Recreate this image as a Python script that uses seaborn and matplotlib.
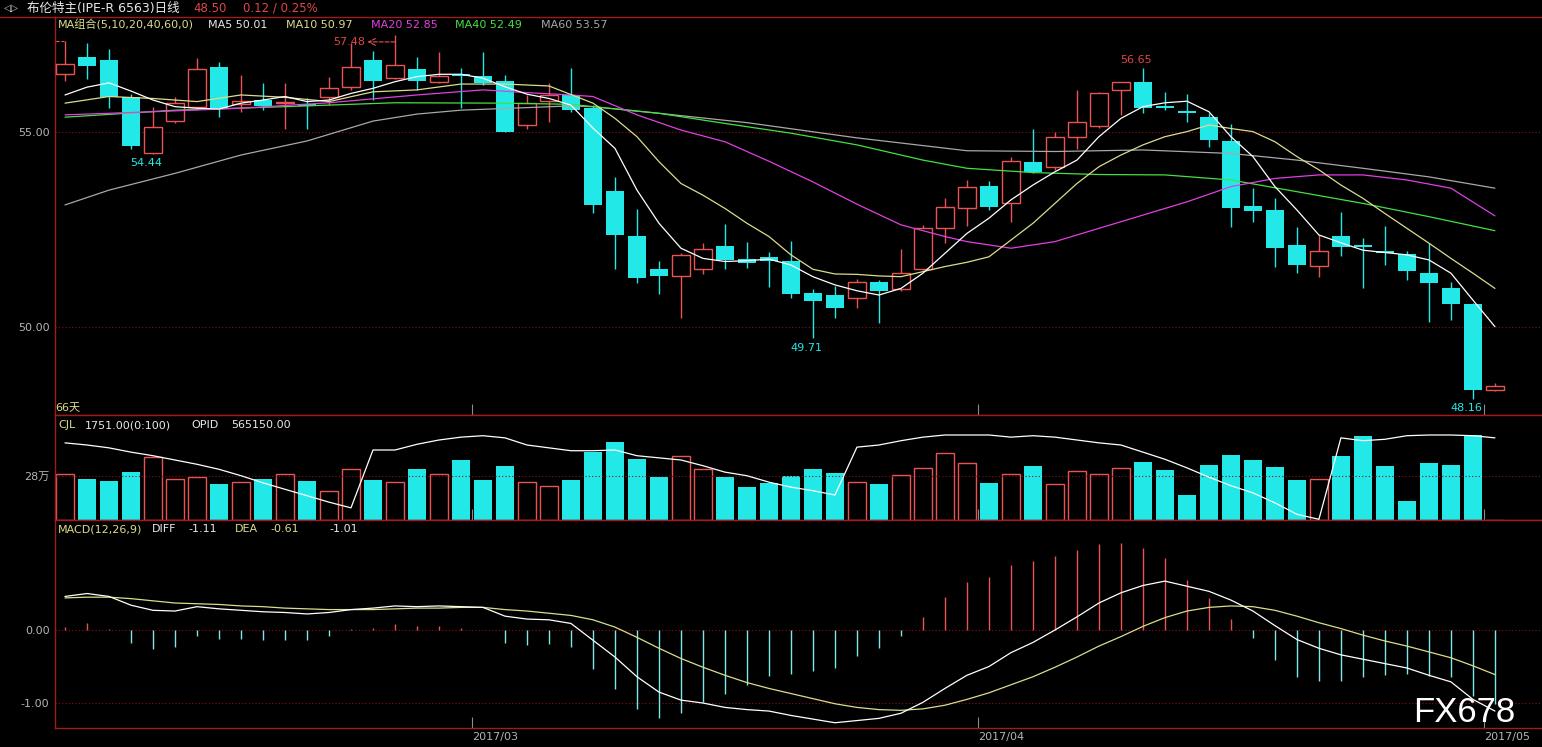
import numpy as np
import pandas as pd
import matplotlib
matplotlib.use("Agg")
import matplotlib.pyplot as plt
from matplotlib.lines import Line2D
import seaborn as sns

# ---- daily candles, Brent main contract (66 days) ----
opens = [56.50, 56.93, 56.85, 55.89, 54.47, 55.29, 55.65, 56.66, 55.72, 55.82,
         55.74, 55.72, 55.89, 56.15, 56.85, 56.38, 56.61, 56.29, 56.50, 56.44,
         56.31, 55.17, 55.79, 55.95, 55.61, 53.49, 52.33, 51.48, 51.32, 51.50,
         52.08, 51.74, 51.79, 51.69, 50.86, 50.82, 50.75, 51.15, 50.97, 51.48,
         52.53, 53.04, 53.62, 53.17, 54.22, 54.11, 54.86, 55.16, 56.08, 56.27,
         55.67, 55.54, 55.38, 54.77, 53.10, 53.00, 52.10, 51.57, 52.33, 52.10,
         51.95, 51.87, 51.38, 50.99, 50.58, 48.38]
highs = [57.33, 57.27, 57.12, 55.97, 55.65, 55.91, 56.89, 56.79, 56.46, 56.25,
         56.25, 55.86, 56.40, 57.27, 57.08, 57.48, 56.93, 57.06, 56.63, 57.06,
         56.46, 55.95, 56.26, 56.63, 55.70, 53.85, 53.02, 51.69, 51.89, 52.15,
         52.64, 52.17, 51.93, 52.21, 50.97, 51.06, 51.22, 51.21, 51.99, 52.62,
         53.30, 53.77, 53.75, 54.37, 55.08, 55.01, 56.08, 56.03, 56.29, 56.65,
         56.03, 55.97, 55.48, 55.21, 53.56, 53.30, 52.57, 52.36, 52.96, 52.27,
         52.59, 51.96, 52.16, 51.16, 50.62, 48.56]
lows = [56.32, 56.36, 55.61, 54.56, 54.44, 55.22, 55.56, 55.39, 55.52, 55.56,
        55.09, 55.09, 55.69, 56.08, 55.82, 56.35, 56.08, 56.26, 55.61, 56.21,
        55.01, 55.07, 55.26, 55.52, 52.92, 51.50, 51.14, 50.84, 50.22, 51.35,
        51.50, 51.52, 51.02, 50.74, 49.71, 50.24, 50.50, 50.11, 50.93, 51.46,
        52.16, 52.59, 53.00, 52.70, 53.94, 54.03, 54.56, 55.10, 55.44, 55.48,
        55.56, 55.26, 54.61, 52.57, 52.68, 51.55, 51.39, 51.29, 51.82, 51.01,
        51.59, 51.21, 50.14, 50.18, 48.16, 48.36]
closes = [56.74, 56.70, 55.91, 54.64, 55.14, 55.74, 56.61, 55.61, 55.79, 55.67,
          55.78, 55.67, 56.14, 56.66, 56.32, 56.72, 56.32, 56.44, 56.44, 56.26,
          55.01, 55.74, 55.95, 55.56, 53.13, 52.36, 51.26, 51.31, 51.85, 51.99,
          51.72, 51.65, 51.70, 50.84, 50.67, 50.50, 51.15, 50.93, 51.39, 52.53,
          53.07, 53.60, 53.09, 54.26, 53.98, 54.88, 55.25, 55.99, 56.27, 55.61,
          55.62, 55.48, 54.79, 53.06, 52.97, 52.03, 51.59, 51.96, 52.06, 52.06,
          51.89, 51.44, 51.12, 50.59, 48.38, 48.50]

# volume (万手) and open interest (万手)
volumes = [29.3, 26.1, 25.0, 30.8, 40.3, 26.1, 27.4, 22.9, 24.2, 26.1,
           29.3, 25.0, 18.5, 32.5, 25.5, 24.0, 32.5, 29.3, 38.2, 25.5,
           34.5, 24.0, 21.4, 25.5, 43.5, 49.6, 38.8, 27.4, 40.7, 32.5,
           27.4, 21.2, 23.7, 28.0, 32.5, 29.9, 24.0, 22.9, 28.6, 32.9,
           42.4, 36.1, 23.7, 29.1, 34.4, 22.7, 31.2, 29.3, 33.0, 37.1,
           31.8, 15.9, 35.0, 41.6, 38.2, 33.7, 25.5, 25.9, 40.7, 53.5,
           34.4, 12.1, 36.3, 35.2, 54.1, 0.18]
opid = [55.8, 55.5, 55.1, 54.5, 54.0, 53.4, 52.8, 52.1, 51.2, 50.2,
        49.3, 48.4, 47.5, 46.7, 54.8, 54.8, 55.6, 56.2, 56.6, 56.8,
        56.5, 55.5, 55.1, 54.7, 54.7, 54.8, 54.0, 53.7, 53.4, 52.6,
        51.7, 51.2, 50.3, 49.6, 49.1, 48.5, 55.2, 55.5, 56.1, 56.6,
        56.9, 56.9, 56.9, 56.6, 56.8, 56.6, 56.2, 55.8, 55.5, 54.5,
        53.5, 52.3, 51.0, 49.8, 48.8, 47.4, 45.8, 45.1, 56.5, 56.1,
        56.3, 56.8, 56.9, 56.9, 56.8, 56.5]

# moving averages
ma5 = [55.95, 56.15, 56.26, 56.05, 55.82, 55.65, 55.61, 55.59, 55.74, 55.82,
       55.91, 55.78, 55.82, 55.99, 56.12, 56.29, 56.42, 56.48, 56.48, 56.38,
       56.16, 55.97, 55.86, 55.69, 55.10, 54.58, 53.51, 52.66, 52.02, 51.76,
       51.68, 51.70, 51.74, 51.59, 51.29, 51.08, 50.93, 50.82, 50.99, 51.38,
       51.89, 52.40, 52.79, 53.26, 53.64, 53.98, 54.28, 54.88, 55.35, 55.65,
       55.75, 55.79, 55.52, 54.88, 54.37, 53.60, 53.00, 52.36, 52.16, 51.97,
       51.91, 51.85, 51.72, 51.38, 50.69, 50.01]
ma10_idx = [0, 2, 4, 6, 8, 10, 12, 14, 16, 18, 20, 22] + list(range(24, 66))
ma10 = [55.74, 55.91, 55.86, 55.78, 55.95, 55.89, 55.78, 56.03, 56.08, 56.23,
        56.23, 56.18,
        55.74, 55.35, 54.88, 54.24, 53.68, 53.38, 53.04, 52.66, 52.32, 51.85,
        51.48, 51.36, 51.35, 51.31, 51.29, 51.42, 51.55, 51.66, 51.80, 52.23,
        52.66, 53.17, 53.68, 54.11, 54.41, 54.67, 54.88, 55.01, 55.18, 55.09,
        55.01, 54.75, 54.37, 54.03, 53.64, 53.30, 52.91, 52.53, 52.15, 51.76,
        51.38, 50.99]
ma20_idx = [0, 4, 8, 12, 16, 19, 21, 23, 24, 26, 28, 30, 32, 34, 36, 38, 40,
            41, 43, 45, 47, 49, 51, 53, 55, 57, 59, 61, 63, 65]
ma20 = [55.44, 55.52, 55.61, 55.75, 55.95, 56.08, 56.01, 55.95, 55.91, 55.44,
        55.05, 54.75, 54.25, 53.72, 53.15, 52.62, 52.32, 52.19, 52.02, 52.19,
        52.53, 52.87, 53.21, 53.60, 53.81, 53.90, 53.90, 53.77, 53.56, 52.85]
ma40_idx = [0, 5, 10, 15, 20, 23, 24, 27, 30, 33, 36, 39, 41, 44, 47, 50, 53,
            56, 59, 62, 65]
ma40 = [55.38, 55.56, 55.65, 55.75, 55.74, 55.71, 55.65, 55.48, 55.22, 54.97,
        54.67, 54.28, 54.07, 53.96, 53.91, 53.90, 53.77, 53.47, 53.17, 52.83,
        52.47]
ma60_idx = [0, 2, 5, 8, 11, 14, 16, 18, 23, 24, 27, 31, 36, 41, 45, 49, 53,
            56, 59, 62, 65]
ma60 = [53.13, 53.51, 53.94, 54.41, 54.77, 55.28, 55.46, 55.56, 55.67, 55.65,
        55.48, 55.24, 54.85, 54.52, 54.50, 54.54, 54.45, 54.28, 54.07, 53.85,
        53.56]

# MACD(12,26,9)
diff = [0.46, 0.50, 0.46, 0.34, 0.27, 0.26, 0.32, 0.29, 0.27, 0.25,
        0.24, 0.22, 0.24, 0.28, 0.30, 0.33, 0.32, 0.33, 0.32, 0.31,
        0.19, 0.15, 0.14, 0.09, -0.14, -0.37, -0.64, -0.85, -0.96, -1.00,
        -1.06, -1.09, -1.11, -1.17, -1.22, -1.27, -1.24, -1.21, -1.14, -0.99,
        -0.80, -0.62, -0.50, -0.31, -0.17, 0.00, 0.18, 0.37, 0.51, 0.61,
        0.67, 0.60, 0.53, 0.41, 0.26, 0.06, -0.13, -0.25, -0.34, -0.40,
        -0.46, -0.52, -0.62, -0.71, -0.95, -1.11]
dea = [0.44, 0.45, 0.45, 0.43, 0.40, 0.37, 0.36, 0.35, 0.33, 0.32,
       0.30, 0.29, 0.28, 0.28, 0.28, 0.29, 0.30, 0.30, 0.31, 0.31,
       0.28, 0.26, 0.23, 0.20, 0.14, 0.04, -0.10, -0.25, -0.39, -0.51,
       -0.62, -0.72, -0.80, -0.87, -0.94, -1.01, -1.06, -1.09, -1.10, -1.08,
       -1.03, -0.95, -0.86, -0.75, -0.64, -0.51, -0.37, -0.22, -0.09, 0.05,
       0.17, 0.26, 0.31, 0.33, 0.32, 0.27, 0.19, 0.10, 0.02, -0.07,
       -0.15, -0.22, -0.30, -0.38, -0.49, -0.61]
macd = [0.04, 0.10, 0.01, -0.18, -0.26, -0.23, -0.08, -0.12, -0.12, -0.13,
        -0.13, -0.13, -0.08, 0.01, 0.03, 0.08, 0.05, 0.05, 0.03, 0.00,
        -0.18, -0.21, -0.19, -0.23, -0.54, -0.81, -1.08, -1.20, -1.13, -0.98,
        -0.88, -0.75, -0.63, -0.60, -0.56, -0.52, -0.36, -0.24, -0.08, 0.18,
        0.45, 0.66, 0.72, 0.89, 0.94, 1.02, 1.10, 1.18, 1.19, 1.12,
        0.99, 0.68, 0.44, 0.15, -0.11, -0.41, -0.64, -0.70, -0.70, -0.65,
        -0.62, -0.60, -0.63, -0.65, -0.91, -1.01]

month_labels = ["2017/03", "2017/04", "2017/05"]
month_pos = [18.5, 41.5, 64.5]

# colours
RED = "#e85454"
TXT_RED = "#e04646"
CYAN = "#22e8e8"
HIST_CYAN = "#7fe6e6"
FRAME = "#a01c1c"
GRID = "#8a1212"
KHAKI = "#dcdc8c"
MAGENTA = "#e040e0"
GREEN = "#44e044"
GRAY = "#a8a8a8"
LABEL = "#b4b4b4"
WHITE = "#e8e8e8"

sns.set_theme(style="dark", rc={"axes.facecolor": "black",
                                "figure.facecolor": "black",
                                "savefig.facecolor": "black"})
plt.rcParams["font.family"] = ["DejaVu Sans", "Noto Sans CJK SC"]
plt.rcParams["axes.unicode_minus"] = False

W, H = 1542, 747
fig = plt.figure(figsize=(W / 100, H / 100), dpi=100)


def box(l, t, r, b):
    return [l / W, 1 - b / H, (r - l) / W, (b - t) / H]


ax1 = fig.add_axes(box(55, 17, W, 415))
ax2 = fig.add_axes(box(55, 415, W, 520))
ax3 = fig.add_axes(box(55, 520, W, 728))

days = np.arange(len(closes))
o, h, l, c = map(np.array, (opens, highs, lows, closes))
up = c >= o
dn = ~up

# ---- candles ----
ax1.vlines(days[up], l[up], h[up], color=RED, lw=1, zorder=2)
ax1.vlines(days[dn], l[dn], h[dn], color=CYAN, lw=1, zorder=2)
ax1.bar(days[up], np.maximum(c - o, 0.03)[up], bottom=o[up], width=0.85,
        facecolor="black", edgecolor=RED, linewidth=1, zorder=3)
ax1.bar(days[dn], np.maximum(o - c, 0.03)[dn], bottom=c[dn], width=0.85,
        color=CYAN, linewidth=0, zorder=3)

for xs, ys, col in [(ma60_idx, ma60, GRAY), (ma40_idx, ma40, GREEN),
                    (ma20_idx, ma20, MAGENTA), (ma10_idx, ma10, KHAKI),
                    (list(days), ma5, "white")]:
    sns.lineplot(x=xs, y=ys, ax=ax1, color=col, linewidth=0.9, zorder=4)

# extreme price marks
ax1.plot([-0.45, -0.05], [57.33, 57.33], ls="--", color=RED, lw=0.8)
ax1.text(12.9, 57.31, "57.48", color=TXT_RED, fontsize=8, ha="center", va="center")
ax1.annotate("", xy=(13.75, 57.31), xytext=(15, 57.31),
             arrowprops=dict(arrowstyle="->", color=RED, lw=0.8, ls="--",
                             shrinkA=0, shrinkB=0))
ax1.text(3.68, 54.2, "54.44", color=CYAN, fontsize=8, ha="center", va="center")
ax1.text(48.7, 56.85, "56.65", color=TXT_RED, fontsize=8, ha="center", va="center")
ax1.text(33.7, 49.46, "49.71", color=CYAN, fontsize=8, ha="center", va="center")
ax1.text(63.7, 47.92, "48.16", color=CYAN, fontsize=8, ha="center", va="center")

# ---- volume + open interest ----
vol_df = pd.DataFrame({"day": days, "vol": volumes, "up": up})
sns.barplot(data=vol_df[~vol_df.up], x="day", y="vol", native_scale=True,
            width=0.85, color=CYAN, saturation=1, errorbar=None, linewidth=0,
            ax=ax2)
sns.barplot(data=vol_df[vol_df.up], x="day", y="vol", native_scale=True,
            width=0.85, color=RED, saturation=1, fill=False, errorbar=None,
            linewidth=1, ax=ax2)
ax2b = ax2.twinx()
sns.lineplot(x=days, y=opid, ax=ax2b, color="white", linewidth=0.9)
ax2b.set_ylim(45, 59.7)
ax2b.set_yticks([])
ax2b.set_ylabel("")
for s in ax2b.spines.values():
    s.set_visible(False)
ax2b.patch.set_visible(False)

# ---- MACD ----
hist_cols = [RED if v > 0 else HIST_CYAN for v in macd]
ax3.vlines(days, 0, macd, colors=hist_cols, lw=1, zorder=2)
sns.lineplot(x=days, y=dea, ax=ax3, color=KHAKI, linewidth=0.9, zorder=3)
sns.lineplot(x=days, y=diff, ax=ax3, color="white", linewidth=0.9, zorder=3)

# ---- axes cosmetics ----
dots = (0, (1, 2))
for y in (50, 55):
    ax1.axhline(y, color=GRID, ls=dots, lw=0.8, zorder=1)
ax2.axhline(28, color=GRID, ls=dots, lw=0.8, zorder=1)
for y in (0, -1):
    ax3.axhline(y, color=GRID, ls=dots, lw=0.8, zorder=1)

ax1.set_ylim(47.744, 57.949)
ax2.set_ylim(0, 66.82)
ax3.set_ylim(-1.342, 1.507)
ax1.set_yticks([50, 55], ["50.00", "55.00"])
ax2.set_yticks([28], ["28万"])
ax3.set_yticks([0, -1], ["0.00", "-1.00"])

for ax in (ax1, ax2, ax3):
    ax.set_xlim(-0.4545, 67.14)
    ax.set_xlabel("")
    ax.set_ylabel("")
    ax.grid(False)
    ax.set_facecolor("black")
    for name, s in ax.spines.items():
        s.set_visible(name != "right")
        s.set_color(FRAME)
        s.set_linewidth(1)
    ax.set_xticks(month_pos)
    ax.tick_params(axis="y", left=False, length=0, pad=4, labelsize=8,
                   labelcolor=LABEL)
    ax.tick_params(axis="x", bottom=True, direction="in", length=8, width=0.8,
                   color="#8c8c8c", labelbottom=False)

ax3.set_xticklabels(month_labels)
ax3.tick_params(axis="x", labelbottom=True, labelsize=8, labelcolor=LABEL, pad=3)
plt.setp(ax3.get_xticklabels(), ha="left")

fig.add_artist(Line2D([0, 55 / W], [1 - 17 / H] * 2, color=FRAME, lw=1))


# ---- header / legend texts ----
def ftext(x, y, s, color, size=8, **kw):
    fig.text(x / W, 1 - y / H, s, color=color, fontsize=size,
             ha="left", va="center", **kw)


ftext(4, 8, "◁▷", "#c8c8c8", size=7)
ftext(27, 8, "布伦特主(IPE-R 6563)日线", WHITE, size=9)
ftext(193, 8, "48.50", TXT_RED, size=8.5)
ftext(243, 8, "0.12 / 0.25%", TXT_RED, size=8.5)

ftext(58, 25, "MA组合(5,10,20,40,60,0)", KHAKI)
ftext(208, 25, "MA5 50.01", WHITE)
ftext(286, 25, "MA10 50.97", KHAKI)
ftext(371, 25, "MA20 52.85", MAGENTA)
ftext(455, 25, "MA40 52.49", GREEN)
ftext(541, 25, "MA60 53.57", GRAY)

ftext(55, 408, "66天", KHAKI)

ftext(58, 425, "CJL", KHAKI)
ftext(85, 425, "1751.00(0:100)", WHITE)
ftext(191, 425, "OPID", WHITE)
ftext(231, 425, "565150.00", WHITE)

ftext(58, 529, "MACD(12,26,9)", KHAKI)
ftext(152, 529, "DIFF", WHITE)
ftext(188, 529, "-1.11", WHITE)
ftext(235, 529, "DEA", KHAKI)
ftext(270, 529, "-0.61", KHAKI)
ftext(329, 529, "-1.01", WHITE)

ftext(1413, 712, "FX678", "white", size=25,
      family=["Liberation Sans Narrow", "Liberation Sans"])

fig.savefig("out.png", dpi=100, facecolor="black")
